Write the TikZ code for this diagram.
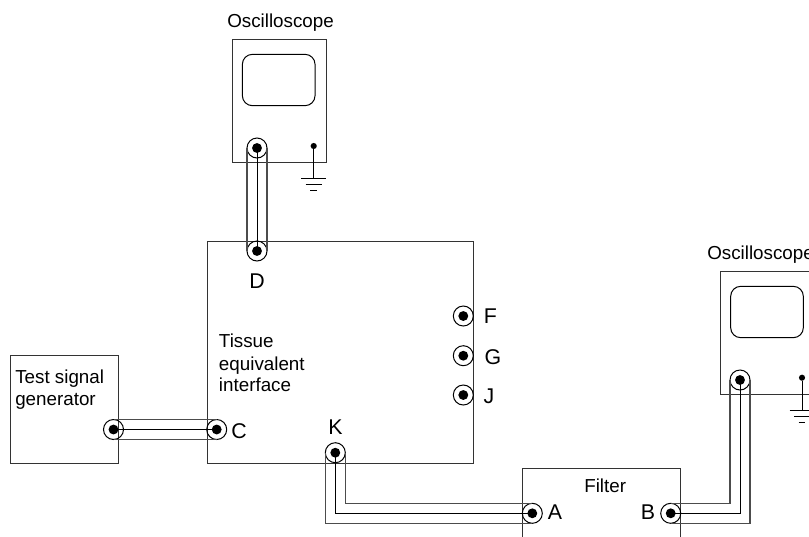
\documentclass[tikz,border=0pt]{standalone}
\usepackage{fontspec}
\setmainfont{Liberation Sans}
\tikzset{
  px/.style={x=0.75pt,y=-0.75pt},
  line/.style={draw=black,line width=0.75pt},
  boxnode/.style={line,draw=black!80,rectangle,inner sep=0pt,outer sep=0pt},
  screen/.style={line,rectangle,rounded corners=7.5pt,inner sep=0pt,outer sep=0pt,minimum width=54.5pt,minimum height=38.5pt},
  ring/.style={circle,line,inner sep=0pt,outer sep=0pt,minimum size=15pt},
  dotb/.style={circle,fill=black,inner sep=0pt,outer sep=0pt,minimum size=7.4pt},
  gnddot/.style={circle,fill=black,inner sep=0pt,outer sep=0pt,minimum size=4.6pt},
  shield/.style={draw=black!70,line width=1pt},
  core/.style={draw=black,line width=0.75pt},
  lab/.style={font=\fontsize{14.1pt}{15pt}\selectfont,inner sep=0pt,anchor=base west},
  letter/.style={font=\fontsize{16pt}{17pt}\selectfont,inner sep=0pt},
}
\newcommand{\jack}[2]{\node[ring] (#1) at #2 {}; \node[dotb] at (#1.center) {};}
\begin{document}
\begin{tikzpicture}[px]
\useasboundingbox (0,0) rectangle (809,536);
\clip (0,0) rectangle (809,536);
% boxes
\node[boxnode,minimum width=70.5pt,minimum height=92.2pt] (osca) at (279,101) {};
\node[screen] (scra) at (278.7,80) {};
\node[boxnode,minimum width=199.5pt,minimum height=166.5pt] (tissue) at (340.2,352.4) {};
\node[boxnode,minimum width=81pt,minimum height=81.7pt] (gen) at (64.3,409.5) {};
\node[boxnode,minimum width=118.5pt,minimum height=75pt] (filter) at (601.8,518.7) {};
\node[boxnode,minimum width=70.5pt,minimum height=92.2pt] (oscb) at (767,333) {};
\node[screen] (scrb) at (767,312) {};
% jacks
\jack{jtop}{(257,148)}
\jack{jd}{(257,251)}
\jack{jgen}{(113.5,429.5)}
\jack{jc}{(216.7,429.5)}
\jack{jf}{(463.3,316)}
\jack{jg}{(463.3,355.7)}
\jack{jj}{(463.3,395)}
\jack{jk}{(335.3,452.7)}
\jack{ja}{(532.3,513.3)}
\jack{jb}{(670.7,513.3)}
\jack{jo}{(740,380)}
% cables
\draw[shield] (jtop.west) -- (jd.west);
\draw[shield] (jtop.east) -- (jd.east);
\draw[core] (jtop.center) -- (jd.center);
\draw[shield] (jgen.north) -- (jc.north);
\draw[shield] (jgen.south) -- (jc.south);
\draw[core] (jgen.center) -- (jc.center);
\draw[shield] (jk.west) |- (ja.south);
\draw[shield] (jk.east) |- (ja.north);
\draw[core] (jk.center) |- (ja.center);
\draw[shield] (jb.north) -| (jo.west);
\draw[shield] (jb.south) -| (jo.east);
\draw[core] (jb.center) -| (jo.center);
% grounds
\node[gnddot] (gda) at (313.7,146) {};
\coordinate (gra) at (313.7,178);
\draw[line] (gda) -- (gra);
\draw[line] ([xshift=-9.2pt]gra) -- ([xshift=9.2pt]gra);
\draw[line] ([xshift=-6pt,yshift=-4.5pt]gra) -- ([xshift=6pt,yshift=-4.5pt]gra);
\draw[line] ([xshift=-2.6pt,yshift=-9pt]gra) -- ([xshift=2.6pt,yshift=-9pt]gra);
\node[gnddot] (gdb) at (802,377.7) {};
\coordinate (grb) at (802,410);
\draw[line] (gdb) -- (grb);
\draw[line] ([xshift=-9.2pt]grb) -- ([xshift=9.2pt]grb);
\draw[line] ([xshift=-6pt,yshift=-4.5pt]grb) -- ([xshift=6pt,yshift=-4.5pt]grb);
\draw[line] ([xshift=-2.6pt,yshift=-9pt]grb) -- ([xshift=2.6pt,yshift=-9pt]grb);
% labels
\node[lab] (lo1) at (227,27.5) {Oscilloscope};
\node[lab] (lo2) at (707,259.5) {Oscilloscope};
\node[lab] (lt1) at (218.7,347) {Tissue};
\node[lab] (lt2) at (218.7,370) {equivalent};
\node[lab] (lt3) at (218.7,391.7) {interface};
\node[lab] (lg1) at (15,383) {Test signal};
\node[lab] (lg2) at (15,405) {generator};
\node[lab] (lfi) at (584,492) {Filter};
\node[letter] (ld) at (257,281) {D};
\node[letter] (lc) at (239,431) {C};
\node[letter] (lff) at (490.5,316.5) {F};
\node[letter] (lgg) at (493,357) {G};
\node[letter] (ljj) at (489,396) {J};
\node[letter] (lk) at (335.5,427) {K};
\node[letter] (la) at (555,512) {A};
\node[letter] (lb) at (648,512) {B};
\end{tikzpicture}
\end{document}
